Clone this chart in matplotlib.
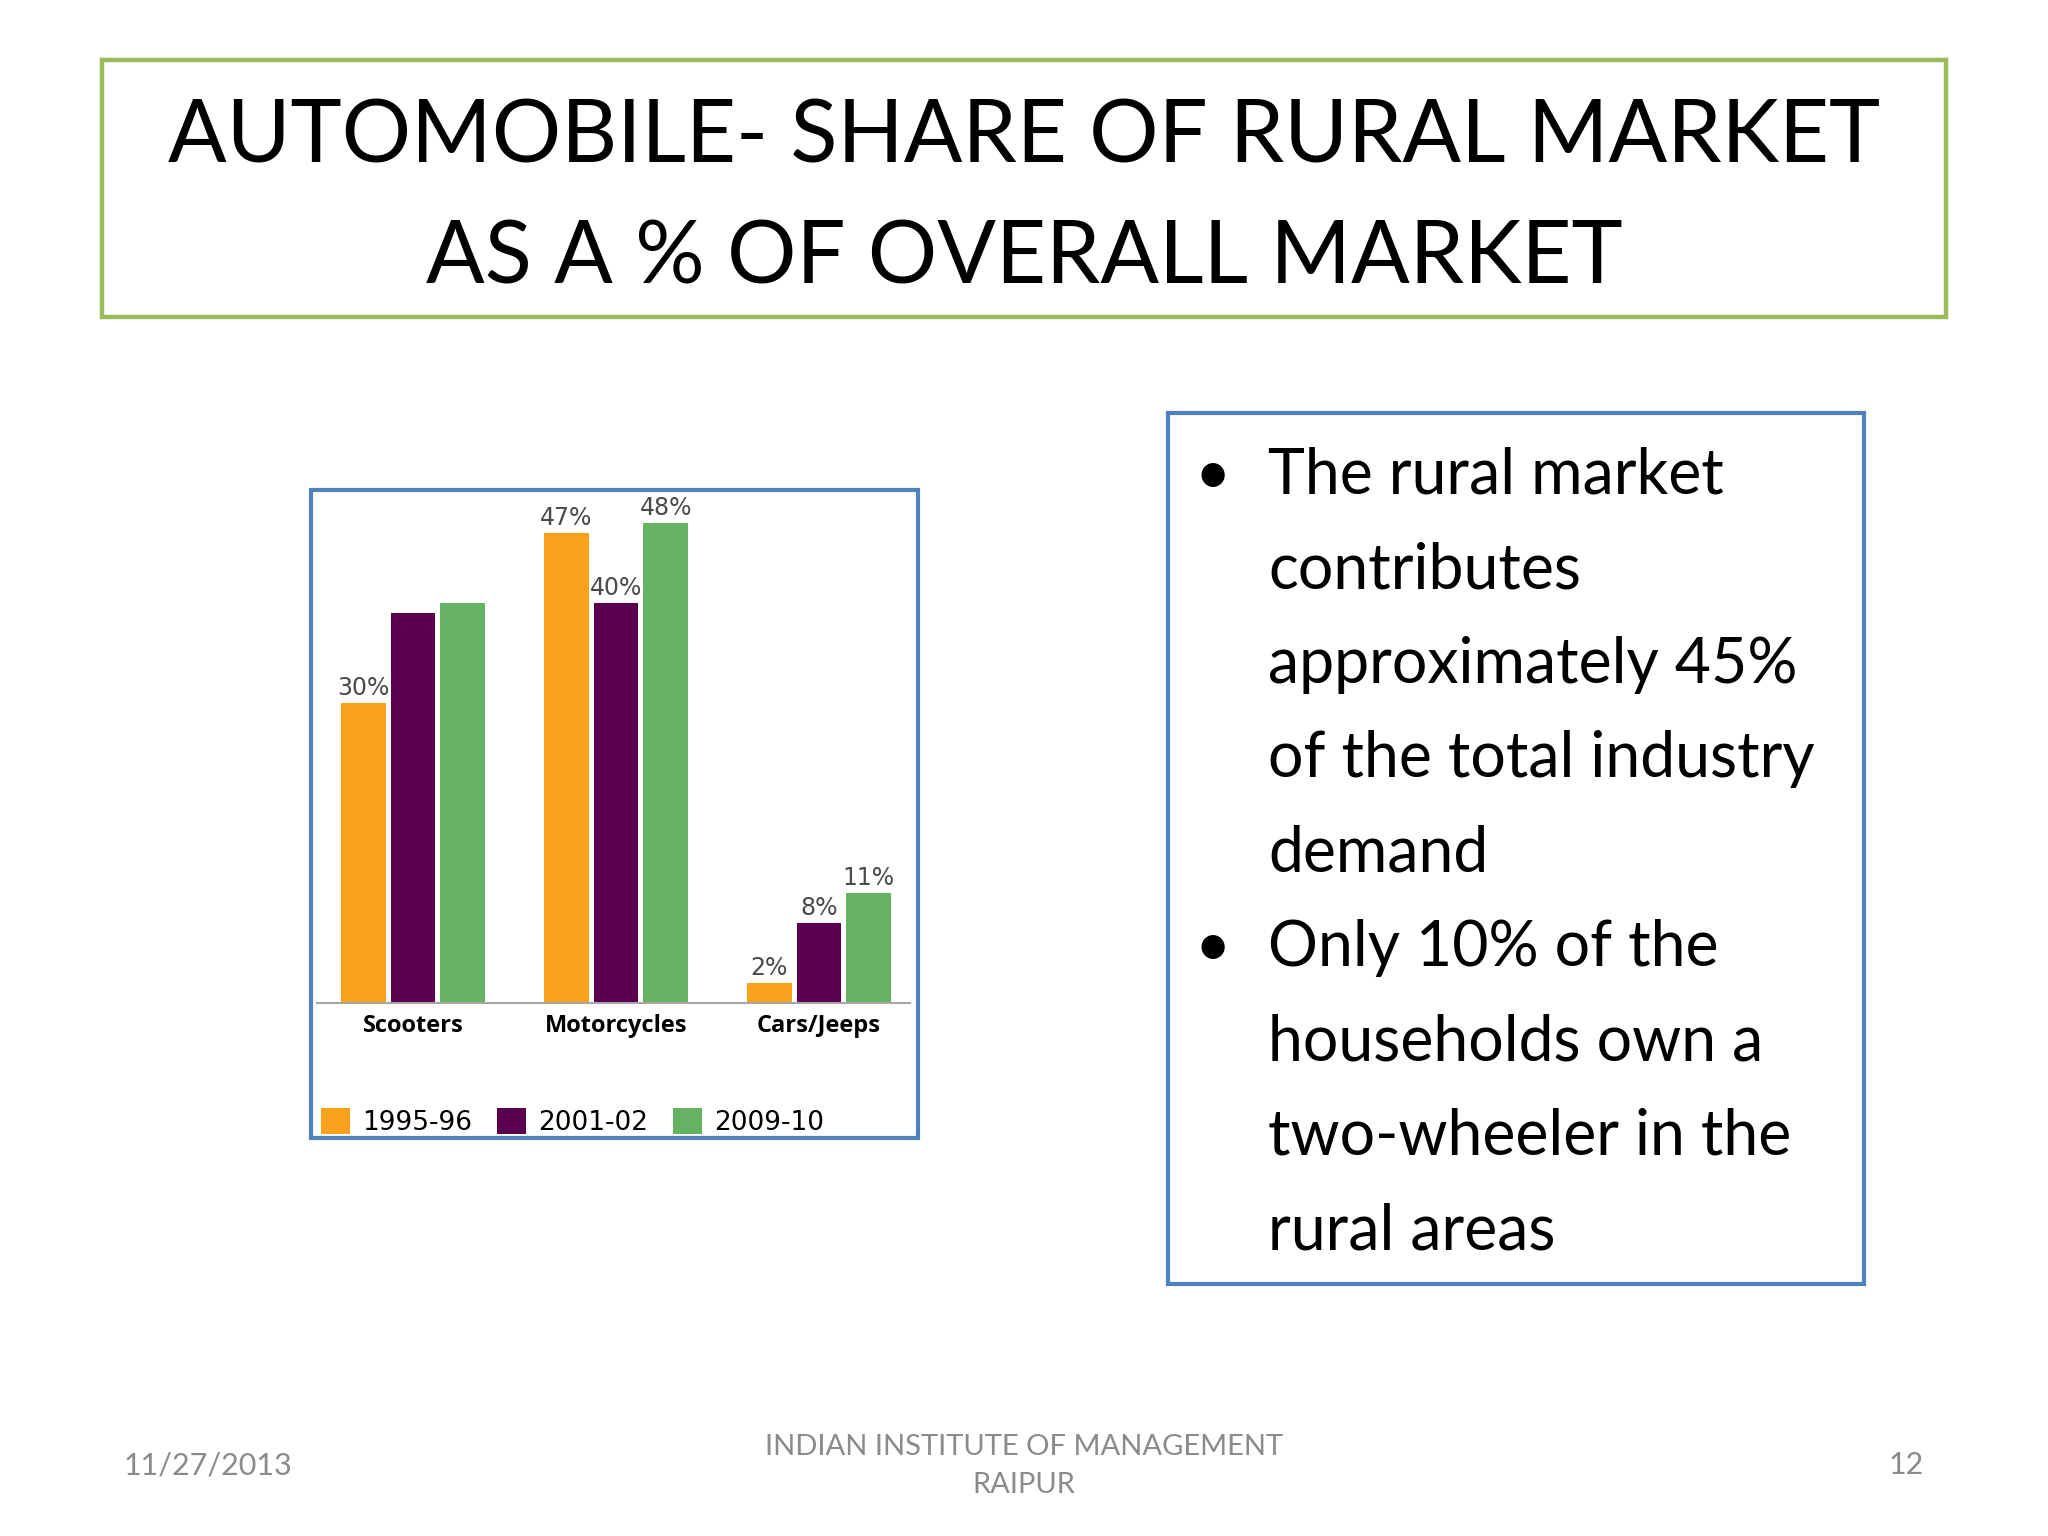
import matplotlib
matplotlib.use('Agg')
import matplotlib.pyplot as plt
from matplotlib.patches import Rectangle

# data
categories = ['Scooters', 'Motorcycles', 'Cars/Jeeps']
years = ['1995-96', '2001-02', '2009-10']
share_9596 = [30, 47, 2]
share_0102 = [39, 40, 8]
share_0910 = [40, 48, 11]
labels_9596 = ['30%', '47%', '2%']
labels_0102 = ['', '40%', '8%']
labels_0910 = ['', '48%', '11%']
colors = ['#F9A11B', '#5A004F', '#66B263']

title_lines = ['AUTOMOBILE- SHARE OF RURAL MARKET', 'AS A % OF OVERALL MARKET']
bullet_lines = ['The rural market', 'contributes', 'approximately 45%',
                'of the total industry', 'demand', 'Only 10% of the',
                'households own a', 'two-wheeler in the', 'rural areas']
bullet_starts = [0, 5]
footer_date = '11/27/2013'
footer_mid = 'INDIAN INSTITUTE OF MANAGEMENT\nRAIPUR'
footer_page = '12'

W, H = 2048, 1536
fx = lambda x: x / W
fy = lambda y: 1 - y / H

fig = plt.figure(figsize=(20.48, 15.36), dpi=100)
fig.patch.set_facecolor('white')
FONT = 'Lato'

# title box
fig.patches.append(Rectangle((fx(102), fy(317)), (1946 - 102) / W, (317 - 60) / H,
                             transform=fig.transFigure, fill=False,
                             edgecolor='#9BBB59', lw=3.2))
fig.text(0.5, fy(138), title_lines[0], ha='center', va='center', fontsize=62.5, family=FONT)
fig.text(0.5, fy(259), title_lines[1], ha='center', va='center', fontsize=62.5, family=FONT)

# chart box
fig.patches.append(Rectangle((fx(311), fy(1138)), (918 - 311) / W, (1138 - 490) / H,
                             transform=fig.transFigure, fill=False,
                             edgecolor='#4F81BD', lw=3))

ax = fig.add_axes([fx(317), fy(1003), (910 - 317) / W, 500 / H])
ax.patch.set_alpha(0)
x = [0, 1, 2]
w = 0.22
step = 0.245
series = [share_9596, share_0102, share_0910]
labs = [labels_9596, labels_0102, labels_0910]
for i, (vals, lab) in enumerate(zip(series, labs)):
    pos = [xx + (i - 1) * step for xx in x]
    bars = ax.bar(pos, vals, width=w, color=colors[i], label=years[i])
    ax.bar_label(bars, labels=lab, padding=2, fontsize=17, color='#4A4A4A',
                 family='DejaVu Sans')
ax.set_xlim(-0.473, 2.448)
ax.set_ylim(0, 50)
for s in ['top', 'left', 'right']:
    ax.spines[s].set_visible(False)
ax.spines['bottom'].set_color('#A6A6A6')
ax.spines['bottom'].set_linewidth(1.5)
ax.set_yticks([])
ax.set_xticks(x)
ax.set_xticklabels(categories, fontsize=17, fontweight='bold', family='Open Sans')
ax.tick_params(axis='x', length=0, pad=8)

fig.legend(loc='center left', bbox_to_anchor=(fx(321), fy(1122)), ncol=3, frameon=False,
           prop={'family': 'DejaVu Sans', 'size': 19}, handlelength=1.1, handleheight=1.1,
           handletextpad=0.45, columnspacing=0.95, borderaxespad=0, borderpad=0)

# text box
fig.patches.append(Rectangle((fx(1168), fy(1284)), (1864 - 1168) / W, (1284 - 413) / H,
                             transform=fig.transFigure, fill=False,
                             edgecolor='#4F81BD', lw=3))
for i, line in enumerate(bullet_lines):
    yy = 476 + i * 94.4
    fig.text(fx(1268), fy(yy), line, ha='left', va='center', fontsize=45, family=FONT)
    if i in bullet_starts:
        fig.text(fx(1213), fy(yy), '\u2022', ha='center', va='center', fontsize=45, family=FONT)

# footer
fig.text(fx(124), fy(1465), footer_date, ha='left', va='center', fontsize=22,
         family=FONT, color='#8B8B8B')
fig.text(fx(1024), fy(1466), footer_mid, ha='center', va='center', fontsize=21,
         family=FONT, color='#8B8B8B', linespacing=1.6)
fig.text(fx(1924), fy(1465), footer_page, ha='right', va='center', fontsize=22,
         family=FONT, color='#8B8B8B')

fig.savefig('out.png', dpi=100)
